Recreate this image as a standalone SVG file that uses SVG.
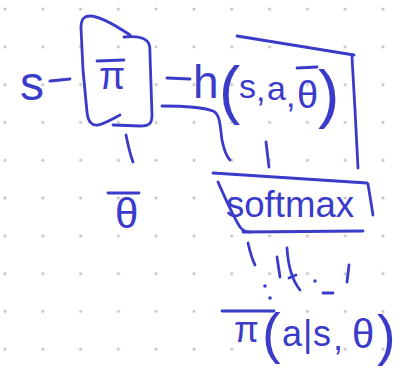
<svg xmlns="http://www.w3.org/2000/svg" width="414" height="372" viewBox="0 0 414 372">
<style>
.ink{fill:none;stroke:#3b3bc9;stroke-width:2.8;stroke-linecap:round;stroke-linejoin:round}
.hw{fill:#3b3bc9;font-family:"Liberation Sans","DejaVu Sans",sans-serif}
.dot{fill:#3b3bc9}
</style>
<defs>
<pattern id="grid" patternUnits="userSpaceOnUse" x="-13.9" y="-9.9" width="37.8" height="37.8">
<circle cx="18.9" cy="18.9" r="1.6" fill="#c4c4c4"/>
</pattern>
</defs>
<rect width="414" height="372" fill="#ffffff"/>
<rect width="414" height="372" fill="url(#grid)"/>

<g id="input-s">
<text class="hw" x="20" y="100" font-size="48">s</text>
</g>

<g id="policy-pi">
<path class="ink" d="M130,35 C115,25 100,16 90,16 C83,16 81,20 81,28 L83,70 L87,112 C88,122 92,126 98,125 C106,123 114,118 120,115"/>
<path class="ink" d="M124,37 C135,36 143,37 147,41 C150,44 150,48 150,55 L152,115 C152,123 150,126 140,126 L113,125"/>
<path class="ink" d="M97,61 L124,60"/>
<text class="hw" x="99" y="89" font-size="38">π</text>
</g>

<g id="theta-bar">
<path class="ink" d="M108,193 L139,193"/>
<text class="hw" x="115" y="228" font-size="42">θ</text>
</g>

<g id="h-func">
<text class="hw" font-size="34"><tspan x="193" y="98" font-size="46">h</tspan><tspan x="219" y="112" font-size="64">(</tspan><tspan x="239" y="98">s</tspan><tspan x="256" y="101">,</tspan><tspan x="267" y="100">a</tspan><tspan x="286" y="107">,</tspan><tspan x="297" y="108" font-size="38">θ</tspan><tspan x="318" y="116" font-size="64">)</tspan></text>
<path class="ink" d="M297,68 L317,67"/>
</g>

<g id="softmax">
<path class="ink" d="M213,173 L367,183"/>
<path class="ink" d="M368,184 L373,215"/>
<path class="ink" d="M218,182 C226,200 233,216 240,227 C243,231 246,232 250,232"/>
<path class="ink" d="M243,232 L363,231"/>
<text class="hw" x="226" y="217" font-size="36" textLength="128" lengthAdjust="spacingAndGlyphs">softmax</text>
</g>

<g id="policy-out">
<path class="ink" d="M222,311 L274,311"/>
<text class="hw" font-size="36"><tspan x="234" y="342">π</tspan><tspan x="262" y="352" font-size="56">(</tspan><tspan x="282" y="346">a</tspan><tspan x="303" y="346">|</tspan><tspan x="313" y="346">s</tspan><tspan x="333" y="350">,</tspan><tspan x="352" y="348" font-size="40">θ</tspan><tspan x="377" y="354" font-size="56">)</tspan></text>
</g>

<g id="connectors">
<path class="ink" d="M50,81 L70,79"/>
<path class="ink" d="M167,78 L190,79"/>
<path class="ink" d="M126,135 C128,145 130,154 133,162"/>
<path class="ink" d="M162,106 C185,106 205,108 213,111 C220,114 220,125 222,140 C224,150 226,156 230,160"/>
<path class="ink" d="M237,36 L354,55"/>
<path class="ink" d="M352,57 L355,110 L358,168"/>
<path class="ink" d="M266,142 L269,167"/>
<path class="ink" d="M248,243 C250,252 252,259 255,265"/>
<path class="ink" d="M277,257 L280,277"/>
<path class="ink" d="M287,248 C288,265 292,280 300,290"/>
<path class="ink" d="M289,278 L296,275"/>
<path class="ink" d="M323,293 L333,293"/>
<path class="ink" d="M349,265 L347,282"/>
<circle class="dot" cx="265" cy="286" r="1.8"/>
<circle class="dot" cx="270" cy="298" r="1.8"/>
<circle class="dot" cx="315" cy="281" r="1.8"/>
</g>
</svg>
